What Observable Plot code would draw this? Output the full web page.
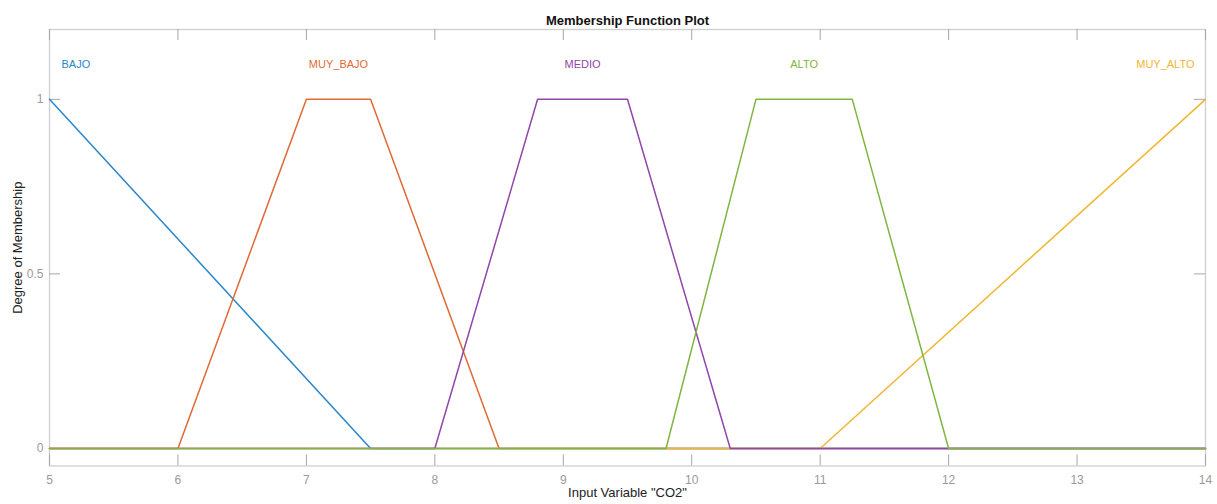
<!DOCTYPE html>
<html>
<head>
<meta charset="utf-8">
<script src="https://cdn.jsdelivr.net/npm/d3@7"></script>
<script src="https://cdn.jsdelivr.net/npm/@observablehq/plot@0.6"></script>
<style>
  html, body { margin: 0; padding: 0; background: #fff; }
  #chart svg { display: block; }
</style>
</head>
<body>
<div id="chart"></div>
<script>
// Membership functions of the input variable "CO2"
const mfNames = ["BAJO", "MUY_BAJO", "MEDIO", "ALTO", "MUY_ALTO"];
const mfColors = ["#2a86c9", "#df6a35", "#9146aa", "#80b541", "#efb631"];

// Vertices of each membership function over the range [5, 14]
const bajoX = [5, 7.5, 14];
const bajoY = [1, 0, 0];
const muyBajoX = [5, 6, 7, 7.5, 8.5, 14];
const muyBajoY = [0, 0, 1, 1, 0, 0];
const medioX = [5, 8, 8.8, 9.5, 10.3, 14];
const medioY = [0, 0, 1, 1, 0, 0];
const altoX = [5, 9.8, 10.5, 11.25, 12, 14];
const altoY = [0, 0, 1, 1, 0, 0];
const muyAltoX = [5, 11, 14];
const muyAltoY = [0, 0, 1];

// Label position of each function (centre of its plateau)
const labelX = [5, 7.25, 9.15, 10.875, 14];
const labelY = 1.1;

const xDomain = [5, 14];
const yDomain = [-0.05, 1.2];
const xTicks = [5, 6, 7, 8, 9, 10, 11, 12, 13, 14];
const yTicks = [0, 0.5, 1];

const series = [
  {name: "BAJO", xs: bajoX, ys: bajoY},
  {name: "MUY_BAJO", xs: muyBajoX, ys: muyBajoY},
  {name: "MUY_ALTO", xs: muyAltoX, ys: muyAltoY},
  {name: "MEDIO", xs: medioX, ys: medioY},
  {name: "ALTO", xs: altoX, ys: altoY}
];
const points = series.flatMap(s => s.xs.map((x, i) => ({name: s.name, x, y: s.ys[i]})));
const labels = mfNames.map((name, i) => ({name, x: labelX[i], y: labelY}));
const leftLabels = labels.filter(d => d.x === xDomain[0]);
const rightLabels = labels.filter(d => d.x === xDomain[1]);
const midLabels = labels.filter(d => d.x !== xDomain[0] && d.x !== xDomain[1]);

const W = 1217, H = 504;
// bottom margin keeps the zero line centred on a pixel row
const mL = 49, mR = 12, mT = 29, mB = 38.54;
const innerW = W - mL - mR, innerH = H - mT - mB;
const tickLen = 11;
const axisGray = "#a6a6a6";
const font = "'Liberation Sans', Arial, Helvetica, sans-serif";

const labelOpts = {x: "x", y: "y", text: "name", fill: "name", fontSize: 11};

const chart = Plot.plot({
  width: W,
  height: H,
  marginLeft: mL,
  marginRight: mR,
  marginTop: mT,
  marginBottom: mB,
  style: {fontFamily: font, background: "#fff"},
  x: {domain: xDomain, label: null},
  y: {domain: yDomain, label: null},
  color: {domain: mfNames, range: mfColors},
  marks: [
    Plot.frame({stroke: "#cfcfcf", strokeWidth: 1.3}),
    // inward ticks on all four sides
    Plot.tickX(xTicks, {x: d => d, insetTop: innerH - tickLen, stroke: axisGray}),
    Plot.tickX(xTicks, {x: d => d, insetBottom: innerH - tickLen, stroke: axisGray}),
    Plot.tickY(yTicks, {y: d => d, insetRight: innerW - tickLen, stroke: axisGray}),
    Plot.tickY(yTicks, {y: d => d, insetLeft: innerW - tickLen, stroke: axisGray}),
    Plot.axisX({ticks: xTicks, tickSize: 0, tickPadding: 10, fontSize: 12, fill: "#9a9a9a", tickFormat: d => String(d), label: null}),
    Plot.axisY({ticks: yTicks, tickSize: 0, tickPadding: 6, fontSize: 12, fill: "#9a9a9a", tickFormat: d => String(d), label: null}),
    Plot.line(points, {x: "x", y: "y", z: "name", stroke: "name", strokeWidth: 1.5}),
    Plot.text(leftLabels, {...labelOpts, textAnchor: "start", dx: 12}),
    Plot.text(midLabels, {...labelOpts, textAnchor: "middle"}),
    Plot.text(rightLabels, {...labelOpts, textAnchor: "end", dx: -11}),
    Plot.text(["Membership Function Plot"], {frameAnchor: "top", dy: -14, text: d => d, fontSize: 13, fontWeight: "bold", fill: "#111"}),
    Plot.text(['Input Variable "CO2"'], {frameAnchor: "bottom", dy: 31, text: d => d, fontSize: 13, fill: "#222"}),
    Plot.text(["Degree of Membership"], {frameAnchor: "left", textAnchor: "middle", dx: -32, rotate: -90, text: d => d, fontSize: 13, fill: "#222"})
  ]
});

document.getElementById("chart").appendChild(chart);
</script>
</body>
</html>
